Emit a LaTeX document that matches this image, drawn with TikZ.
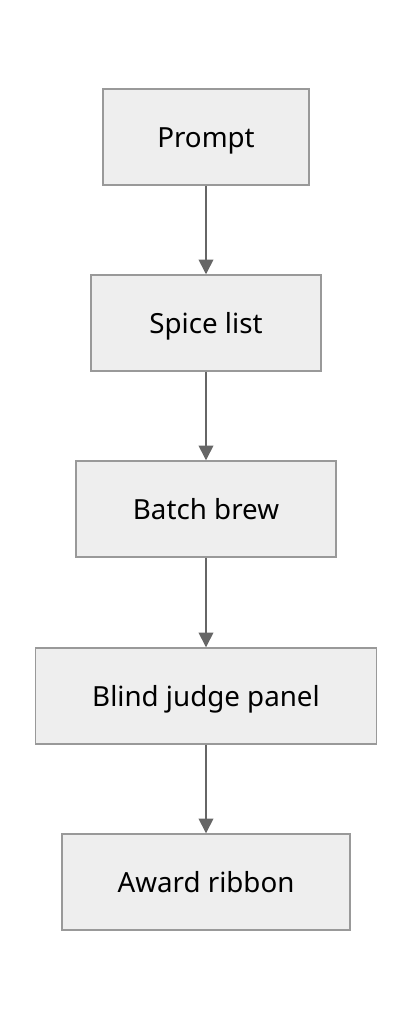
\documentclass[tikz,border=0pt]{standalone}
\usepackage{fontspec}
\setmainfont{Noto Sans}
\usetikzlibrary{arrows.meta}
\definecolor{boxfill}{HTML}{EEEEEE}
\definecolor{boxdraw}{HTML}{999999}
\definecolor{arrowc}{HTML}{666666}
\begin{document}
\begin{tikzpicture}[x=0.75pt,y=-0.75pt,
  stepbox/.style={draw=boxdraw,fill=boxfill,line width=1.1pt,minimum height=72pt,inner sep=0pt,text height=17pt,text depth=1.5pt,font=\fontsize{20.8}{24}\selectfont,text=black},
  conn/.style={draw=arrowc,line width=1.2pt,-{Triangle[length=11pt,width=11pt]}}]
\useasboundingbox[fill=white] (0,0) rectangle (412,1020);
\node[stepbox,minimum width=154.5pt] (a) at (206,137) {Prompt};
\node[stepbox,minimum width=172.5pt] (b) at (206,323) {Spice list};
\node[stepbox,minimum width=195pt] (c) at (206,509) {Batch brew};
\node[stepbox,minimum width=255.75pt] (d) at (206,696) {Blind judge panel};
\node[stepbox,minimum width=216pt] (e) at (206,882) {Award ribbon};
\draw[conn] (a) -- (b);
\draw[conn] (b) -- (c);
\draw[conn] (c) -- (d);
\draw[conn] (d) -- (e);
\end{tikzpicture}
\end{document}
